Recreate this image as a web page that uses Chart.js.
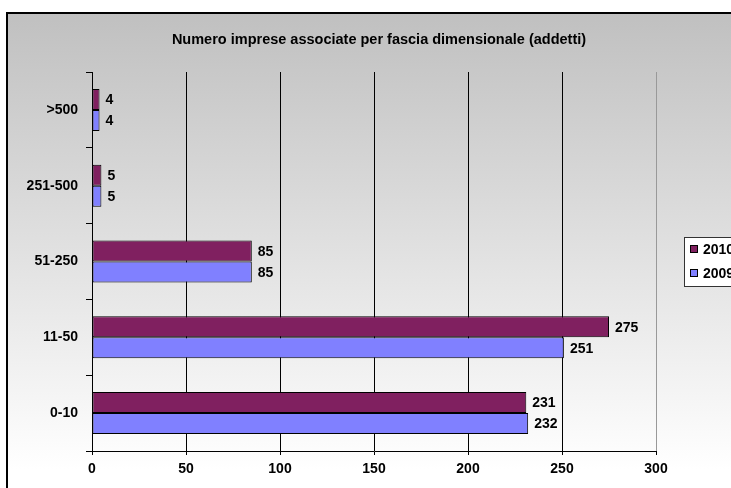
<!DOCTYPE html>
<html>
<head>
<meta charset="utf-8">
<script src="https://cdn.jsdelivr.net/npm/chart.js@4/dist/chart.umd.min.js"></script>
<style>
  html, body { margin: 0; padding: 0; background: #ffffff; }
  #wrap { width: 731px; height: 488px; position: relative; }
</style>
</head>
<body>
<div id="wrap"><canvas id="chart" width="731" height="488"></canvas></div>
<script>
// Associated companies by size band (employees), 2010 vs 2009
const titleText = 'Numero imprese associate per fascia dimensionale (addetti)';
const sizeBands = ['>500', '251-500', '51-250', '11-50', '0-10'];
const companies2010 = [4, 5, 85, 275, 231];
const companies2009 = [4, 5, 85, 251, 232];
const seriesLabels = ['2010', '2009'];
const xTicks = [0, 50, 100, 150, 200, 250, 300];

const FONT = '"Liberation Sans", Arial, sans-serif';
const colors = ['#802060', '#8080ff'];

// Frame, gradient background and title
const framePlugin = {
  id: 'frame',
  beforeDraw(chart) {
    const ctx = chart.ctx;
    const w = chart.width, h = chart.height;
    ctx.save();
    ctx.fillStyle = '#ffffff';
    ctx.fillRect(0, 0, w, h);
    const g = ctx.createLinearGradient(0, 13, 0, 470);
    g.addColorStop(0, '#c0c0c0');
    g.addColorStop(1, '#ffffff');
    ctx.fillStyle = g;
    ctx.fillRect(7, 13, w - 7, h - 13);
    ctx.strokeStyle = '#000000';
    ctx.lineWidth = 2;
    ctx.beginPath();
    ctx.moveTo(7, h + 2);
    ctx.lineTo(7, 13);
    ctx.lineTo(w + 2, 13);
    ctx.stroke();
    ctx.fillStyle = '#000000';
    ctx.font = 'bold 14.5px ' + FONT;
    ctx.textAlign = 'center';
    ctx.textBaseline = 'middle';
    ctx.fillText(titleText, 379, 40);
    ctx.restore();
  },
  afterDraw(chart) {
    // legend box, partly running past the right edge
    const ctx = chart.ctx;
    ctx.save();
    ctx.fillStyle = '#ffffff';
    ctx.fillRect(684, 237, 80, 49);
    ctx.strokeStyle = '#333333';
    ctx.lineWidth = 1;
    ctx.strokeRect(684.5, 237.5, 80, 49);
    ctx.font = 'bold 14px ' + FONT;
    ctx.textAlign = 'left';
    ctx.textBaseline = 'middle';
    chart.data.datasets.forEach((ds, i) => {
      const y = 249 + i * 24;
      ctx.fillStyle = ds.backgroundColor;
      ctx.fillRect(690, y - 4, 8, 8);
      ctx.strokeStyle = '#000000';
      ctx.strokeRect(690.5, y - 3.5, 7, 7);
      ctx.fillStyle = '#000000';
      ctx.fillText(ds.label, 703, y + 1);
    });
    ctx.restore();
  }
};

// Value labels at the end of each bar
const valueLabels = {
  id: 'valueLabels',
  afterDatasetsDraw(chart) {
    const ctx = chart.ctx;
    ctx.save();
    ctx.font = 'bold 14px ' + FONT;
    ctx.fillStyle = '#000000';
    ctx.textAlign = 'left';
    ctx.textBaseline = 'middle';
    chart.data.datasets.forEach((ds, i) => {
      chart.getDatasetMeta(i).data.forEach((bar, j) => {
        ctx.fillText(String(ds.data[j]), bar.x + 6, bar.y + 1);
      });
    });
    ctx.restore();
  }
};

new Chart(document.getElementById('chart'), {
  type: 'bar',
  data: {
    labels: sizeBands,
    datasets: [
      { label: seriesLabels[0], data: companies2010, backgroundColor: colors[0], borderColor: '#000000', borderWidth: 1, borderSkipped: false },
      { label: seriesLabels[1], data: companies2009, backgroundColor: colors[1], borderColor: '#000000', borderWidth: 1, borderSkipped: false }
    ]
  },
  options: {
    indexAxis: 'y',
    responsive: false,
    animation: false,
    devicePixelRatio: 1,
    layout: { padding: { top: 72, right: 75, left: 0, bottom: 0 } },
    categoryPercentage: 0.554,
    barPercentage: 1.0,
    plugins: {
      legend: { display: false },
      title: { display: false },
      tooltip: { enabled: false }
    },
    scales: {
      x: {
        min: 0,
        max: 300,
        afterBuildTicks(scale) { scale.ticks = xTicks.map(v => ({ value: v })); },
        afterFit(scale) { scale.height = 37; },
        ticks: { color: '#000000', font: { family: FONT, size: 14, weight: 'bold' }, padding: 6 },
        grid: {
          color: ctx => (ctx.tick && ctx.tick.value === 300) ? '#999999' : '#000000',
          lineWidth: 1,
          drawTicks: true,
          tickLength: 4,
          tickColor: '#000000'
        },
        border: { display: true, color: '#000000', width: 1 }
      },
      y: {
        afterFit(scale) { scale.width = 92; },
        ticks: { color: '#000000', font: { family: FONT, size: 14, weight: 'bold' }, padding: 8 },
        grid: {
          offset: true,
          drawOnChartArea: false,
          drawTicks: true,
          tickLength: 6,
          color: '#000000'
        },
        border: { display: true, color: '#000000', width: 1 }
      }
    }
  },
  plugins: [framePlugin, valueLabels]
});
</script>
</body>
</html>
